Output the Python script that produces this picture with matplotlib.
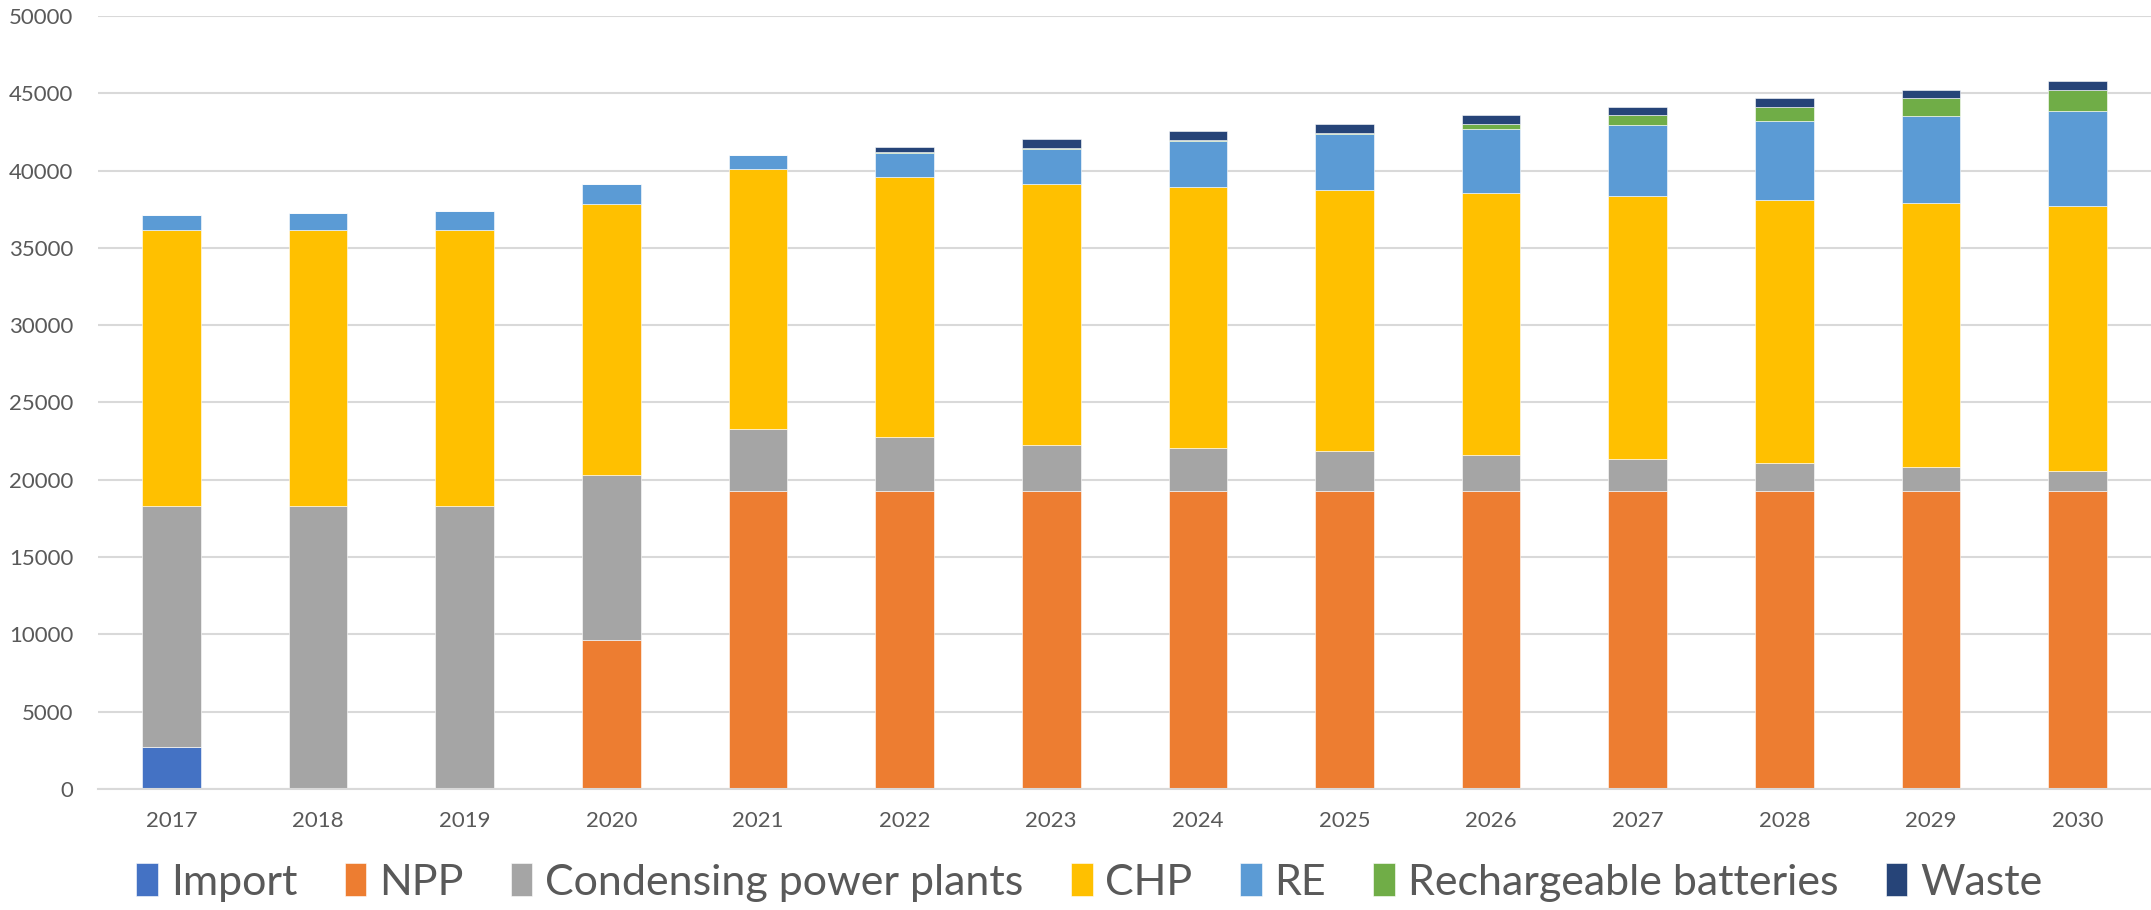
import numpy as np
import matplotlib.pyplot as plt

plt.rcParams['font.family'] = ['Lato', 'DejaVu Sans']

# Data
years = ["2017", "2018", "2019", "2020", "2021", "2022", "2023",
         "2024", "2025", "2026", "2027", "2028", "2029", "2030"]

import_ = [2740, 0, 0, 0, 0, 0, 0, 0, 0, 0, 0, 0, 0, 0]
npp = [0, 0, 0, 9640, 19280, 19280, 19280, 19280, 19280, 19280, 19280, 19280, 19280, 19280]
condensing = [15540, 18280, 18280, 10645, 3980, 3460, 2990, 2750, 2557, 2300, 2040, 1790, 1520, 1270]
chp = [17895, 17895, 17895, 17555, 16820, 16863, 16880, 16925, 16923, 16972, 17010, 17030, 17100, 17130]
re = [925, 1055, 1185, 1310, 925, 1560, 2220, 2935, 3580, 4115, 4590, 5125, 5605, 6150]
batteries = [0, 0, 0, 0, 0, 50, 110, 90, 110, 345, 650, 885, 1165, 1400]
waste = [0, 0, 0, 0, 0, 305, 560, 560, 560, 560, 560, 560, 560, 560]

series = [
    ("Import", import_, "#4472C4"),
    ("NPP", npp, "#ED7D31"),
    ("Condensing power plants", condensing, "#A5A5A5"),
    ("CHP", chp, "#FFC000"),
    ("RE", re, "#5B9BD5"),
    ("Rechargeable batteries", batteries, "#70AD47"),
    ("Waste", waste, "#264478"),
]

fig = plt.figure(figsize=(21.51, 9.10), dpi=100)
ax = fig.add_axes([0.0456, 0.133, 0.9544, 0.8494])

x = np.arange(len(years))
bottom = np.zeros(len(years))
for name, vals, color in series:
    vals = np.array(vals, dtype=float)
    ax.bar(x, vals, width=0.4, bottom=bottom, color=color, label=name,
           edgecolor="white", linewidth=0.4)
    bottom += vals

ax.set_xlim(-0.5, len(years) - 0.5)
ax.set_ylim(0, 50000)
ax.set_yticks(np.arange(0, 50001, 5000))
ax.set_xticks(x)
ax.set_xticklabels(years)

ax.grid(axis="y", color="#D9D9D9", linewidth=1.5)
ax.set_axisbelow(True)
for side in ["top", "right", "left"]:
    ax.spines[side].set_visible(False)
ax.spines["bottom"].set_color("#D9D9D9")
ax.spines["bottom"].set_linewidth(1.5)
ax.tick_params(axis="both", length=0, colors="#595959", labelsize=16)
ax.tick_params(axis="x", pad=16)
ax.tick_params(axis="y", pad=18)

leg = fig.legend(loc="center", bbox_to_anchor=(0.5065, 0.03), ncol=7,
                 frameon=False, fontsize=31, handlelength=0.5, handleheight=0.8,
                 handletextpad=0.3, columnspacing=1.1, borderpad=0)
for t in leg.get_texts():
    t.set_color("#595959")

fig.savefig("out.png", dpi=100)
